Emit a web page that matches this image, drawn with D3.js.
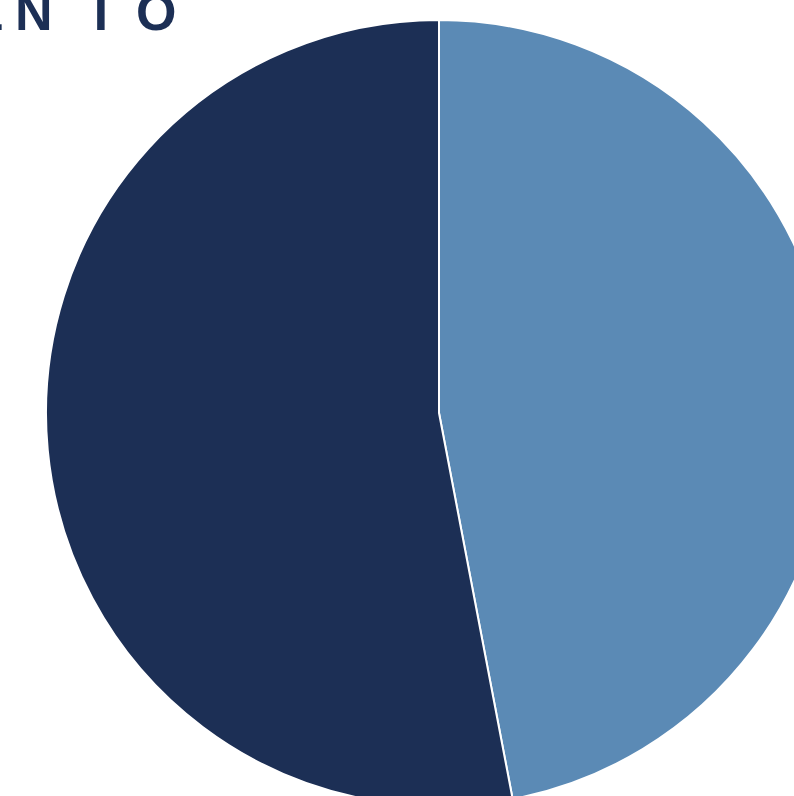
<!DOCTYPE html>
<html>
<head>
<meta charset="utf-8">
<script src="https://cdn.jsdelivr.net/npm/d3@7"></script>
<style>
  html, body { margin: 0; padding: 0; background: #fff; overflow: hidden; }
  svg { display: block; }
</style>
</head>
<body>
<svg id="chart" width="794" height="796"></svg>
<script>
// slices, clockwise from 12 o'clock
var labels = ["A", "B"];
var values = [47, 53];
var colors = ["#5b8ab5", "#1c2f55"];
var titleText = "ENTO";

var W = 794, H = 796;
var CX = 439, CY = 413, R = 393;

var svg = d3.select("#chart");

// title, cut off at the top edge - letters are widely spaced
svg.append("text")
    .attr("x", "-31 15 85 136")
    .attr("y", 30)
    .attr("font-family", "Liberation Sans")
    .attr("font-weight", "bold")
    .attr("font-size", 52)
    .attr("fill", "#1c2f55")
    .text(titleText);

var pie = d3.pie().sort(null).value(function(d) { return d; });
var arc = d3.arc().innerRadius(0).outerRadius(R);

var g = svg.append("g").attr("transform", "translate(" + CX + "," + CY + ")");

g.selectAll("path")
    .data(pie(values))
    .enter()
    .append("path")
    .attr("d", arc)
    .attr("fill", function(d, i) { return colors[i]; })
    .attr("stroke", "#fff")
    .attr("stroke-width", 2)
    .attr("stroke-linejoin", "round");
</script>
</body>
</html>
